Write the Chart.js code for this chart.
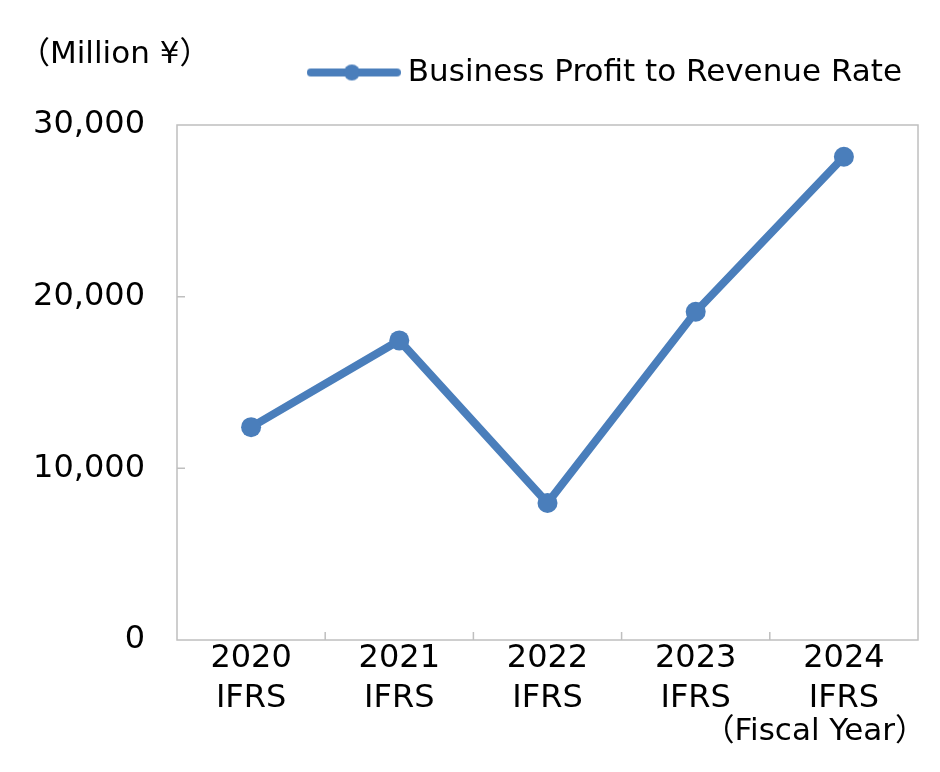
<!DOCTYPE html>
<html lang="ja">
<head>
    <meta charset="UTF-8">
    <title>Business Profit</title>
    <script src="https://cdn.jsdelivr.net/npm/chart.js@4.4.3/dist/chart.umd.min.js"></script>
    <style>
        html, body { margin: 0; padding: 0; background: #fff; }
    </style>
</head>
<body>
    <canvas id="chart" width="940" height="772"></canvas>
    <script>
        // データ
        const years = ['2020', '2021', '2022', '2023', '2024'];
        const standards = ['IFRS', 'IFRS', 'IFRS', 'IFRS', 'IFRS'];
        const profit = [12400, 17450, 7980, 19120, 28150];
        const yTicks = [0, 10000, 20000, 30000];
        const seriesLabel = 'Business Profit to Revenue Rate';
        const unitLabel = '（Million ¥）';
        const xTitle = '（Fiscal Year）';

        const lineColor = '#4A7EBB';
        const frameColor = '#BFBFBF';
        const fontFamily = '"DejaVu Sans", "Noto Sans CJK JP", sans-serif';

        // レジェンド用のマーカー (線 + 丸)
        const legendMarker = document.createElement('canvas');
        legendMarker.width = 94;
        legendMarker.height = 20;
        (function () {
            const c = legendMarker.getContext('2d');
            c.strokeStyle = lineColor;
            c.lineWidth = 8;
            c.lineCap = 'round';
            c.beginPath();
            c.moveTo(4, 10);
            c.lineTo(90, 10);
            c.stroke();
            c.fillStyle = lineColor;
            c.beginPath();
            c.arc(45, 10, 8, 0, Math.PI * 2);
            c.fill();
        })();

        // レジェンドの高さを固定する
        const legendHeightPlugin = {
            id: 'legendHeightPlugin',
            beforeLayout(chart) {
                const legend = chart.legend;
                if (legend && !legend._patched) {
                    const fit = legend.fit;
                    legend.fit = function () {
                        fit.call(this);
                        this.height = 84;
                    };
                    legend._patched = true;
                }
            }
        };

        // 枠線・目盛り・単位テキスト
        const framePlugin = {
            id: 'framePlugin',
            afterDatasetsDraw(chart) {
                const { ctx, chartArea: a, scales } = chart;
                ctx.save();
                ctx.strokeStyle = frameColor;
                ctx.lineWidth = 1.5;
                ctx.strokeRect(a.left, a.top, a.right - a.left, a.bottom - a.top);

                // x 軸の内向き目盛り (カテゴリ境界)
                ctx.beginPath();
                for (let i = 1; i < years.length; i++) {
                    const px = (scales.x.getPixelForValue(i - 1) + scales.x.getPixelForValue(i)) / 2;
                    ctx.moveTo(px, a.bottom);
                    ctx.lineTo(px, a.bottom - 8);
                }
                // y 軸の内向き目盛り
                yTicks.slice(1, -1).forEach(v => {
                    const py = scales.y.getPixelForValue(v);
                    ctx.moveTo(a.left, py);
                    ctx.lineTo(a.left + 8, py);
                });
                ctx.stroke();
                ctx.restore();
            },
            afterDraw(chart) {
                const { ctx } = chart;
                ctx.save();
                ctx.fillStyle = '#000';
                ctx.font = '31px ' + fontFamily;
                ctx.textBaseline = 'middle';
                ctx.textAlign = 'left';
                ctx.fillText(unitLabel, 19, 55);
                ctx.textAlign = 'right';
                ctx.fillText(xTitle, 926, 732);
                ctx.restore();
            }
        };

        const ctx = document.getElementById('chart').getContext('2d');
        const myChart = new Chart(ctx, {
            type: 'line',
            data: {
                labels: years.map((y, i) => [y, standards[i]]),
                datasets: [{
                    label: seriesLabel,
                    data: profit,
                    borderColor: lineColor,
                    backgroundColor: lineColor,
                    borderWidth: 8,
                    pointRadius: 10,
                    pointHoverRadius: 10,
                    pointBackgroundColor: lineColor,
                    pointBorderWidth: 0,
                    tension: 0,
                }]
            },
            plugins: [legendHeightPlugin, framePlugin],
            options: {
                animation: false,
                responsive: false,
                devicePixelRatio: 1,
                layout: {
                    padding: { top: 41, right: 22, bottom: 0, left: 0 }
                },
                plugins: {
                    legend: {
                        position: 'top',
                        align: 'end',
                        labels: {
                            usePointStyle: true,
                            pointStyleWidth: 77,
                            padding: 16,
                            color: '#000',
                            font: { family: fontFamily, size: 31 },
                            generateLabels: (chart) => [{
                                text: seriesLabel,
                                pointStyle: legendMarker,
                                fillStyle: lineColor,
                                strokeStyle: lineColor,
                                lineWidth: 0,
                                datasetIndex: 0,
                                hidden: false,
                            }],
                        },
                    },
                    tooltip: { enabled: false },
                },
                scales: {
                    x: {
                        offset: true,
                        grid: { display: false },
                        border: { display: false },
                        ticks: {
                            color: '#000',
                            padding: -9,
                            maxRotation: 0,
                            font: { family: fontFamily, size: 32, lineHeight: 1.25 },
                        },
                        afterFit(scale) { scale.height = 132; }
                    },
                    y: {
                        min: 0,
                        max: 30000,
                        grid: { display: false },
                        border: { display: false },
                        ticks: {
                            stepSize: 10000,
                            color: '#000',
                            padding: 24,
                            font: { family: fontFamily, size: 32 },
                            callback: (v) => v.toLocaleString('en-US'),
                        },
                        afterFit(scale) { scale.width = 177; }
                    }
                }
            }
        });
    </script>
</body>
</html>
